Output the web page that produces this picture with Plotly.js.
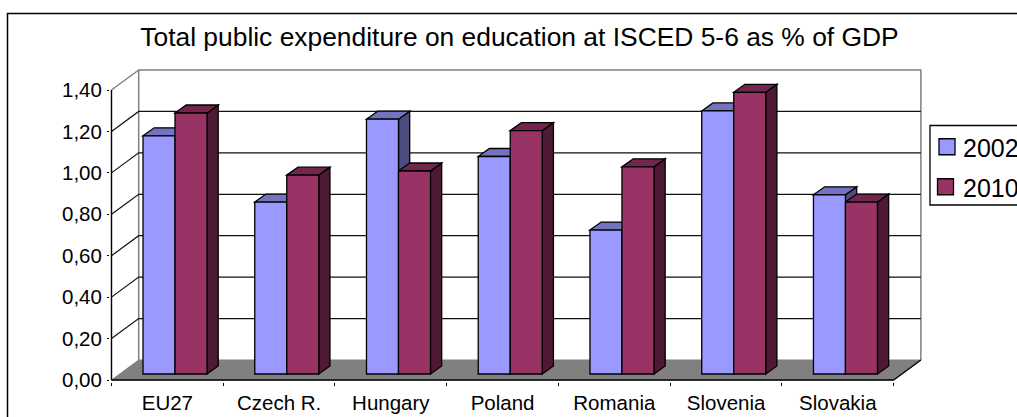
<!DOCTYPE html>
<html>
<head>
<meta charset="utf-8">
<script src="https://cdn.plot.ly/plotly-3.0.1.min.js"></script>
<style>html,body{margin:0;padding:0;width:1017px;height:417px;overflow:hidden;background:#fff}#chart{width:1060px;height:430px}
.legend2 text{transform:translateX(-2.5px)}</style>
</head>
<body>
<div id="chart"></div>
<script>
const categories = ["EU27","Czech R.","Hungary","Poland","Romania","Slovenia","Slovakia"];
const values2002 = [1.15,0.83,1.23,1.05,0.695,1.27,0.865];
const values2010 = [1.26,0.96,0.98,1.175,1.00,1.36,0.83];
const seriesNames = ["2002","2010"];
const FONT = '"Liberation Sans", Arial, sans-serif';

// page geometry
const W = 1060, H = 430, L = 110, R = 923, T = 68, B = 382;
const xUnit = 111.74, yUnit = 207.14;           // px per category / per 1.0
const x0px = 111.5, y0px = 380;
const xRange = [-0.5 - (x0px - L) / xUnit, -0.5 + (R - x0px) / xUnit];
const yRange = [-(B - y0px) / yUnit, (y0px - T) / yUnit];

// pseudo-3D depth, in data units
const wallDX = 27.2 / xUnit, wallDY = 20 / yUnit;
const barDX = 11.2 / xUnit, barDY = 8 / yUnit;
const barLift = 6 / yUnit;
const barWidth = 32 / xUnit;
const offsets = [-0.218, -0.218 + barWidth];

const palette = [
  {front:"#9999FF", top:"#7373BF", side:"#4D4D80"},
  {front:"#993366", top:"#73264D", side:"#4D1933"}
];
const EDGE = 1.3;
const xl = -0.5, xr = categories.length - 0.5, yMax = 1.4;

function poly(pts){ return "M" + pts.map(p => p[0] + "," + p[1]).join("L"); }
function shape(pts, close, line, fill){
  return {type:"path", xref:"x", yref:"y", layer:"below",
    path: poly(pts) + (close ? "Z" : ""),
    line: line, fillcolor: fill || "rgba(0,0,0,0)"};
}
const shapes = [];
const px = x => (x - L) / (R - L), py = y => (B - y) / (B - T);

// chart frame and legend box
shapes.push({type:"rect", xref:"paper", yref:"paper", layer:"below",
  x0:px(7.5), x1:px(1050), y0:py(425), y1:py(13.5), line:{color:"#000",width:1.5}, fillcolor:"#fff"});
shapes.push({type:"rect", xref:"paper", yref:"paper", layer:"below",
  x0:px(930), x1:px(1045), y0:py(205), y1:py(125.5), line:{color:"#000",width:1.3}, fillcolor:"#fff"});

// floor
shapes.push(shape([[xl,0],[xr,0],[xr+wallDX,wallDY],[xl+wallDX,wallDY]], true, {color:"#808080",width:1}, "#808080"));
// walls
const grey = {color:"#808080", width:1.5};
shapes.push(shape([[xl+wallDX,wallDY],[xl+wallDX,yMax+wallDY],[xr+wallDX,yMax+wallDY],[xr+wallDX,wallDY]], false, grey));
shapes.push(shape([[xl,yMax],[xl+wallDX,yMax+wallDY]], false, grey));
// gridlines
for (const v of [0.2,0.4,0.6,0.8,1.0,1.2]) {
  shapes.push(shape([[xl,v],[xl+wallDX,v+wallDY],[xr+wallDX,v+wallDY]], false, {color:"#111",width:1.2}));
}
// front edges
const axisLine = {color:"#000", width:1.4};
shapes.push(shape([[xr,0],[xr+wallDX,wallDY]], false, axisLine));
shapes.push(shape([[xl,0],[xr,0]], false, axisLine));
shapes.push(shape([[xl,0],[xl,yMax]], false, axisLine));

// depth faces of the bars, derived from the values
[values2002, values2010].forEach((vals, s) => {
  vals.forEach((v, i) => {
    const a = i + offsets[s], b = a + barWidth, top = barLift + v, base = barLift;
    const ln = {color:"#000", width:EDGE};
    shapes.push(shape([[b,base],[b+barDX,base+barDY],[b+barDX,top+barDY],[b,top]], true, ln, palette[s].side));
    shapes.push(shape([[a,top],[a+barDX,top+barDY],[b+barDX,top+barDY],[b,top]], true, ln, palette[s].top));
  });
});

const traces = [values2002, values2010].map((vals, s) => ({
  type:"bar", name:seriesNames[s], x:categories, y:vals,
  base:vals.map(() => barLift), offset:offsets[s], width:barWidth,
  marker:{color:palette[s].front, line:{color:"#000", width:EDGE}},
  legend: s === 0 ? "legend" : "legend2", showlegend:true, hoverinfo:"x+y"
}));

const legendCommon = {xref:"container", yref:"container", xanchor:"left", yanchor:"middle",
  bgcolor:"rgba(0,0,0,0)", borderwidth:0, font:{family:FONT, size:25, color:"#000"}, itemclick:false, itemdoubleclick:false};

const layout = {
  width:W, height:H, autosize:false,
  margin:{l:L, r:W-R, t:T, b:H-B, pad:0, autoexpand:false},
  paper_bgcolor:"#fff", plot_bgcolor:"rgba(0,0,0,0)",
  separators:", ",
  font:{family:FONT, color:"#000"},
  barmode:"overlay",
  title:{text:"Total public expenditure on education at ISCED 5-6 as % of GDP",
    font:{family:FONT, size:26.4, color:"#000"},
    xref:"container", yref:"container", x:519.5/W, y:1-37/H, xanchor:"center", yanchor:"middle"},
  xaxis:{type:"category", categoryorder:"array", categoryarray:categories, range:xRange,
    tickson:"boundaries", ticks:"outside", ticklen:3, tickwidth:1.3, tickcolor:"#000", ticklabelstandoff:6,
    showgrid:false, zeroline:false, showline:false, tickfont:{family:FONT, size:20.5, color:"#000"}},
  yaxis:{range:yRange, tickmode:"linear", tick0:0, dtick:0.2, tickformat:".2f",
    ticks:"outside", ticklen:2, tickwidth:1.3, tickcolor:"#000", ticklabelstandoff:1,
    showgrid:false, zeroline:false, showline:false, tickfont:{family:FONT, size:20.5, color:"#000"}},
  legend:Object.assign({x:927/W, y:1-147/H}, legendCommon),
  legend2:Object.assign({x:925.5/W, y:1-187/H}, legendCommon),
  shapes:shapes
};

Plotly.newPlot("chart", traces, layout, {displayModeBar:false}).then(gd => {
  // tighten legend entries to the reference's swatch size and text gap
  gd.querySelectorAll(".legend .traces path, .legend2 .traces path").forEach(p => {
    const d = p.getAttribute("d");
    if (d && d.indexOf("M6,6") === 0) p.setAttribute("d","M8,8H-8V-8H8Z");
  });
  gd.querySelectorAll(".legend .legendtext").forEach(t => t.setAttribute("x", 36));
});
</script>
</body>
</html>
